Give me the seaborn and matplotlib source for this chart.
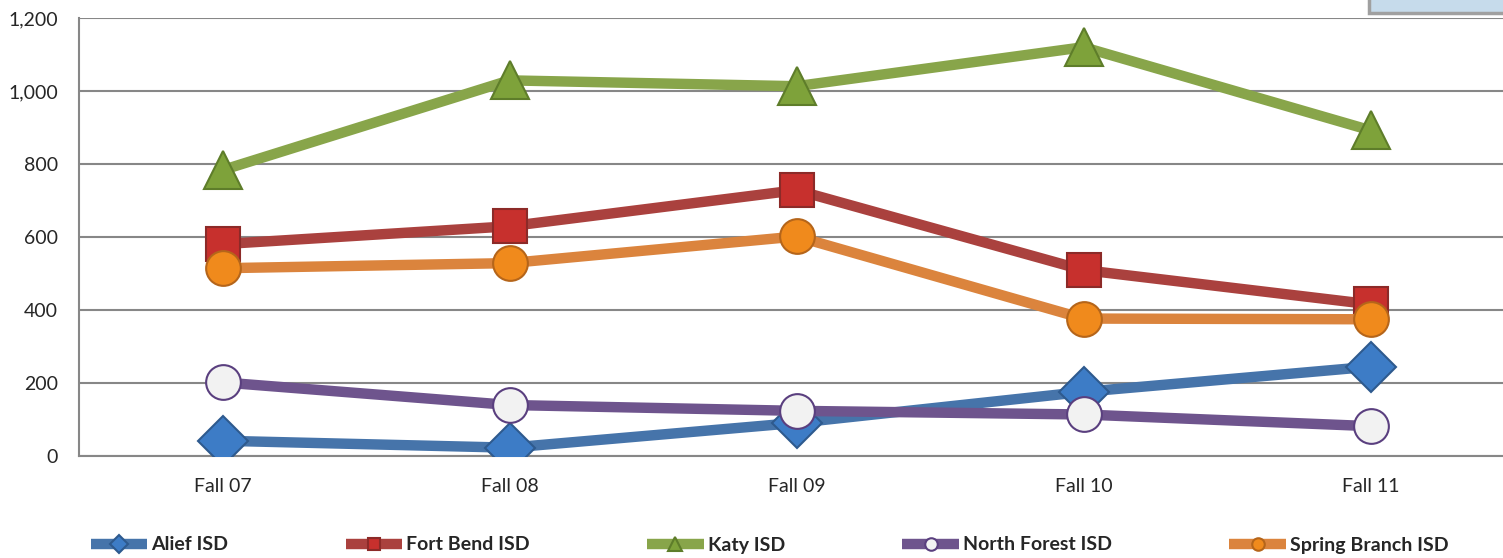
import numpy as np
import pandas as pd
import matplotlib
matplotlib.use("Agg")
import matplotlib.pyplot as plt
from matplotlib.patches import Rectangle
import seaborn as sns

# data
terms = ["Fall 07", "Fall 08", "Fall 09", "Fall 10", "Fall 11"]
alief = [41, 22, 90, 175, 244]
fort_bend = [580, 629, 728, 509, 415]
katy = [783, 1029, 1013, 1120, 892]
north_forest = [201, 139, 123, 113, 81]
spring_branch = [514, 528, 601, 376, 374]

districts = ["Alief ISD", "Fort Bend ISD", "Katy ISD", "North Forest ISD", "Spring Branch ISD"]
values = [alief, fort_bend, katy, north_forest, spring_branch]

line_colors = ["#4674AA", "#AA413E", "#88A54A", "#6E548D", "#DB843D"]
face_colors = ["#3D7CC6", "#C7302D", "#7EA23A", "#F2F2F2", "#F08A1C"]
edge_colors = ["#2E5A8E", "#8C2A28", "#5E7D2A", "#5A3F7F", "#B5651A"]
marker_shapes = ["D", "s", "^", "o", "o"]
marker_sizes = [25, 25, 27, 25, 25]

sns.set_style("white")
plt.rcParams["font.family"] = ["Lato", "DejaVu Sans"]

df = pd.DataFrame({
    "term": np.tile(np.arange(len(terms)), len(districts)),
    "count": np.concatenate(values),
    "district": np.repeat(districts, len(terms)),
})

fig = plt.figure(figsize=(15.03, 5.58), dpi=100)
ax = fig.add_axes([79 / 1503, 1 - 455.7 / 558, 1435 / 1503, (455.7 - 18) / 558])

for i, name in enumerate(districts):
    sub = df[df["district"] == name]
    sns.lineplot(data=sub, x="term", y="count", ax=ax, color=line_colors[i],
                 linewidth=7.5, marker=marker_shapes[i], markersize=marker_sizes[i],
                 markerfacecolor=face_colors[i], markeredgecolor=edge_colors[i],
                 markeredgewidth=1.5, label=name, solid_capstyle="butt", zorder=3 + i)

ax.set_xlim(-0.5, 4.5)
ax.set_ylim(0, 1200)
ax.set_yticks(range(0, 1201, 200))
ax.set_yticklabels([f"{v:,}" for v in range(0, 1201, 200)], fontsize=14)
ax.set_xticks(range(len(terms)))
ax.set_xticklabels(terms, fontsize=14)
ax.tick_params(axis="both", length=0)
ax.tick_params(axis="y", pad=15)
ax.tick_params(axis="x", pad=16)
ax.set_xlabel("")
ax.set_ylabel("")
ax.grid(axis="y", color="#878787", linewidth=1.5)
ax.set_axisbelow(True)
for side in ["top", "right"]:
    ax.spines[side].set_visible(False)
for side in ["left", "bottom"]:
    ax.spines[side].set_color("#878787")
    ax.spines[side].set_linewidth(1.5)

handles, labels = ax.get_legend_handles_labels()
ax.get_legend().remove()
leg = fig.legend(handles, labels, loc="center", bbox_to_anchor=(0.512, 1 - 545 / 558),
                 ncol=5, frameon=False, markerscale=0.36, handlelength=2.9,
                 handletextpad=0.2, columnspacing=6.05,
                 prop={"weight": "bold", "size": 14})

# light blue box clipped at the top right corner
fig.patches.append(Rectangle((1369 / 1503, 1 - 13 / 558), 0.2, 0.1, transform=fig.transFigure,
                             facecolor="#C6DBEB", edgecolor="#A0A0A0", linewidth=2.5))

plt.savefig("out.png", dpi=100)
